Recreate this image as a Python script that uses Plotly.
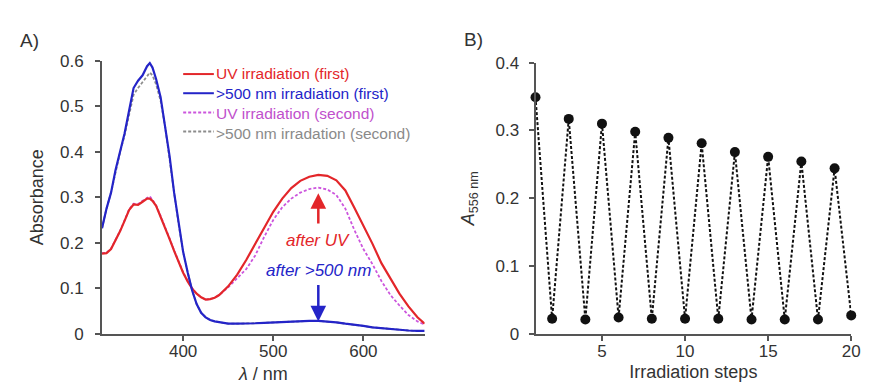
import plotly.graph_objects as go

# ---------------- data ----------------
wavelength = [310, 315, 320, 325, 330, 335, 340, 345, 350, 355,
              360, 363, 366, 370, 375, 380, 385, 390, 395, 400,
              405, 410, 415, 420, 425, 430, 435, 440, 450, 460,
              470, 480, 490, 500, 510, 520, 530, 540, 550, 560,
              570, 580, 590, 600, 610, 620, 630, 640, 650, 660,
              668]

uv_first = [0.176, 0.177, 0.186, 0.205, 0.225, 0.248, 0.272, 0.284, 0.283, 0.290,
            0.297, 0.297, 0.292, 0.281, 0.258, 0.235, 0.208, 0.182, 0.157, 0.134,
            0.115, 0.099, 0.088, 0.080, 0.075, 0.076, 0.079, 0.085, 0.104, 0.130,
            0.162, 0.197, 0.235, 0.268, 0.297, 0.320, 0.336, 0.345, 0.349, 0.347,
            0.337, 0.315, 0.277, 0.238, 0.198, 0.155, 0.120, 0.088, 0.060, 0.036,
            0.022]

vis_first = [0.232, 0.275, 0.310, 0.360, 0.400, 0.440, 0.490, 0.540, 0.556, 0.568,
             0.588, 0.595, 0.585, 0.560, 0.520, 0.460, 0.390, 0.310, 0.240, 0.180,
             0.135, 0.095, 0.065, 0.046, 0.036, 0.030, 0.027, 0.025, 0.022, 0.022,
             0.022, 0.023, 0.024, 0.025, 0.026, 0.027, 0.027, 0.028, 0.028, 0.027,
             0.025, 0.022, 0.020, 0.017, 0.014, 0.012, 0.010, 0.008, 0.007, 0.006,
             0.006]

uv_second = [0.177, 0.178, 0.187, 0.206, 0.226, 0.249, 0.273, 0.286, 0.285, 0.292,
             0.299, 0.302, 0.294, 0.282, 0.259, 0.236, 0.209, 0.183, 0.158, 0.135,
             0.116, 0.100, 0.088, 0.080, 0.075, 0.076, 0.079, 0.085, 0.102, 0.122,
             0.142, 0.172, 0.213, 0.250, 0.278, 0.297, 0.310, 0.318, 0.321, 0.317,
             0.305, 0.275, 0.228, 0.186, 0.153, 0.116, 0.085, 0.062, 0.041, 0.027,
             0.020]

vis_second = [0.232, 0.275, 0.310, 0.358, 0.398, 0.436, 0.482, 0.525, 0.540, 0.552,
              0.566, 0.574, 0.568, 0.548, 0.512, 0.455, 0.388, 0.310, 0.240, 0.180,
              0.135, 0.095, 0.065, 0.046, 0.036, 0.030, 0.027, 0.025, 0.022, 0.022,
              0.022, 0.023, 0.024, 0.025, 0.026, 0.027, 0.027, 0.028, 0.028, 0.027,
              0.025, 0.022, 0.020, 0.017, 0.014, 0.012, 0.010, 0.008, 0.007, 0.006,
              0.006]

steps = list(range(1, 21))
a556 = [0.349, 0.022, 0.317, 0.021, 0.310, 0.024, 0.298, 0.022, 0.289, 0.022,
        0.281, 0.022, 0.268, 0.021, 0.261, 0.021, 0.254, 0.021, 0.244, 0.027]

series_names = ["UV irradiation (first)", ">500 nm irradiation (first)",
                "UV irradiation (second)", ">500 nm irradation (second)"]

x_ticks_a = [400, 500, 600]
y_ticks_a = [0, 0.1, 0.2, 0.3, 0.4, 0.5, 0.6]
y_labels_a = ["0", "0.1", "0.2", "0.3", "0.4", "0.5", "0.6"]
x_ticks_b = [5, 10, 15, 20]
y_ticks_b = [0, 0.1, 0.2, 0.3, 0.4]
y_labels_b = ["0", "0.1", "0.2", "0.3", "0.4"]

# ---------------- style ----------------
W, H = 873, 388
RED = "#e3262a"
BLUE = "#2424c8"
MAGENTA = "#cc55dd"
GRAY = "#8c8c8c"
AXIS = "#555555"
TXT = "#333333"
FONT = "Liberation Sans, Arial, sans-serif"


def px(x):
    return x / W


def py(y):
    return 1 - y / H


fig = go.Figure()

fig.add_trace(go.Scatter(x=wavelength, y=vis_second, mode="lines", name=series_names[3],
                         line=dict(color=GRAY, width=1.8, dash="3px,2px"), xaxis="x", yaxis="y"))
fig.add_trace(go.Scatter(x=wavelength, y=uv_second, mode="lines", name=series_names[2],
                         line=dict(color=MAGENTA, width=1.8, dash="3px,2px"), xaxis="x", yaxis="y"))
fig.add_trace(go.Scatter(x=wavelength, y=uv_first, mode="lines", name=series_names[0],
                         line=dict(color=RED, width=2.2), xaxis="x", yaxis="y"))
fig.add_trace(go.Scatter(x=wavelength, y=vis_first, mode="lines", name=series_names[1],
                         line=dict(color=BLUE, width=2.2), xaxis="x", yaxis="y"))

fig.add_trace(go.Scatter(x=steps, y=a556, mode="lines+markers", name="A556 nm",
                         line=dict(color="#111111", width=2, dash="3px,2px"),
                         marker=dict(color="#111111", size=10),
                         cliponaxis=False, xaxis="x2", yaxis="y2"))

axis_common = dict(showline=True, linecolor=AXIS, linewidth=2, ticks="outside", ticklen=5,
                   tickcolor=AXIS, tickwidth=1.5, showgrid=False, zeroline=False,
                   tickfont=dict(size=17, color=TXT, family=FONT))

fig.update_layout(
    width=W, height=H, margin=dict(l=0, r=0, t=0, b=0),
    paper_bgcolor="white", plot_bgcolor="white", showlegend=False,
    font=dict(family=FONT, size=17, color=TXT),
    xaxis=dict(domain=[px(95), px(421)], range=[310, 668], tickvals=x_ticks_a, anchor="y",
               ticklabelstandoff=-4,
               title=dict(text="<i>λ</i> / nm", font=dict(size=18, color=TXT), standoff=7),
               **axis_common),
    yaxis=dict(domain=[55 / H, (H - 46) / H], range=[0, 0.6],
               tickvals=y_ticks_a, ticktext=y_labels_a, anchor="x", ticklabelstandoff=8,
               title=dict(text="Absorbance", font=dict(size=18, color=TXT), standoff=12),
               **axis_common),
    xaxis2=dict(domain=[px(533), px(852)], range=[1, 20], tickvals=x_ticks_b, anchor="y2",
                ticklabelstandoff=-4,
                title=dict(text="Irradiation steps", font=dict(size=18, color=TXT), standoff=5),
                **axis_common),
    yaxis2=dict(domain=[55 / H, (H - 48) / H], range=[0, 0.4], tickvals=y_ticks_b,
                ticktext=y_labels_b, anchor="x2", ticklabelstandoff=6,
                title=dict(text="<i>A</i><sub>556 nm</sub>", font=dict(size=18, color=TXT), standoff=16),
                **axis_common),
)

annotations = []
# panel labels
annotations.append(dict(text="A)", x=px(10), y=py(25), xref="paper", yref="paper",
                        xanchor="left", yanchor="middle", showarrow=False,
                        font=dict(size=19, color=TXT)))
annotations.append(dict(text="B)", x=px(459), y=py(24), xref="paper", yref="paper",
                        xanchor="left", yanchor="middle", showarrow=False,
                        font=dict(size=19, color=TXT)))

# manual legend: one multi-line text block with coloured lines, plus key line samples
LEG_SIZE = 15.5
LEG_STEP = LEG_SIZE * 1.3
LEG_TOP = 60
legend_colors = [RED, BLUE, MAGENTA, GRAY]
legend_text_colors = [RED, BLUE, "#c050cc", "#8a8a8a"]
legend_dashes = ["solid", "solid", "3px,2px", "3px,2px"]
legend_text = "<br>".join(
    f"<span style='color:{c}'>{n.replace('>', '&gt;')}</span>"
    for n, c in zip(series_names, legend_text_colors))
annotations.append(dict(text=legend_text, x=px(209), y=py(LEG_TOP - LEG_STEP / 2 - 1),
                        xref="paper", yref="paper", xanchor="left", yanchor="top",
                        align="left", showarrow=False, borderpad=0,
                        font=dict(size=LEG_SIZE, color=TXT)))
shapes = []
for i, (col, dash) in enumerate(zip(legend_colors, legend_dashes)):
    yy = LEG_TOP + i * LEG_STEP
    shapes.append(dict(type="line", xref="paper", yref="paper", x0=px(177), x1=px(208),
                       y0=py(yy), y1=py(yy), line=dict(color=col, width=2, dash=dash)))

# arrow labels in panel A (text with arrow pointing to the band maximum)
annotations.append(dict(text="<i>after UV</i>", x=550, y=0.309, ax=550, ay=0.205,
                        xref="x", yref="y", axref="x", ayref="y",
                        showarrow=True, arrowhead=2, arrowsize=1.25, arrowwidth=2.5,
                        arrowcolor=RED, standoff=0, startstandoff=6,
                        font=dict(size=17, color=RED)))
annotations.append(dict(text="<i>after >500 nm</i>", x=550, y=0.027, ax=550, ay=0.14,
                        xref="x", yref="y", axref="x", ayref="y",
                        showarrow=True, arrowhead=2, arrowsize=1.25, arrowwidth=2.5,
                        arrowcolor=BLUE, standoff=0, startstandoff=4,
                        font=dict(size=17, color=BLUE)))

fig.update_layout(annotations=annotations, shapes=shapes)

fig.write_html("out.html")
